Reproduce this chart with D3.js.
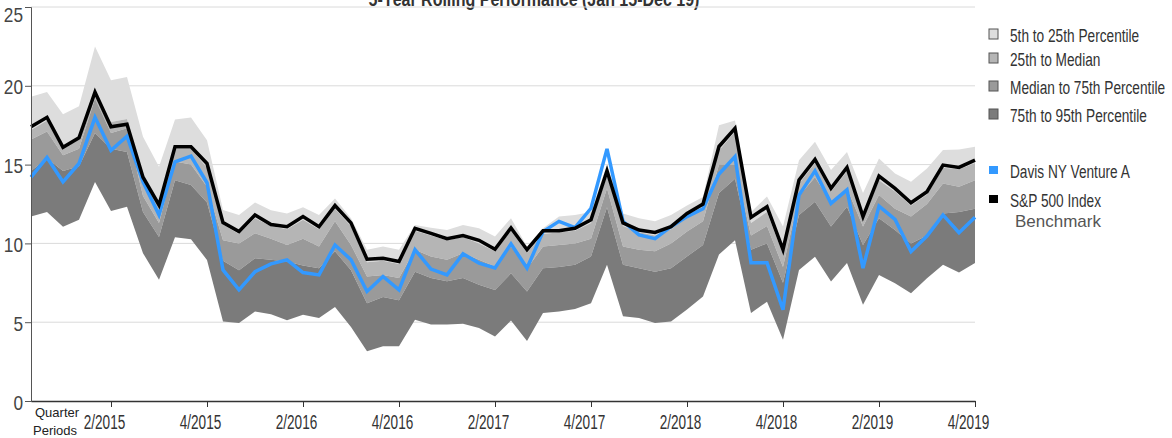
<!DOCTYPE html>
<html>
<head>
<meta charset="utf-8">
<script src="https://cdn.jsdelivr.net/npm/d3@7"></script>
<style>
  body { margin: 0; background: #fff; }
  svg text { font-family: 'Liberation Sans', Arial, sans-serif; }
</style>
</head>
<body>
<div id="chart"></div>
<script>
// monthly rolling returns, Jan 2015 .. Dec 2019 (60 points)
const p5 = [19.3,19.6,18.2,18.7,22.5,20.35,20.56,16.76,14.86,17.86,17.99,16.55,
  12.12,11.8,12.6,12.1,11.9,12.3,11.8,12.85,11.6,9.6,9.8,9.6,
  11.17,11.0,10.85,11.17,10.96,10.43,11.6,9.8,10.96,11.7,11.8,12.0,
  15.0,11.9,11.6,11.4,11.8,12.4,12.95,17.5,17.8,12.0,12.97,11.07,
  15.28,16.45,14.65,15.8,13.2,15.39,14.44,13.91,14.76,15.92,15.96,16.13];
const p25 = [17.2,17.8,16.0,16.6,19.5,17.7,17.9,14.3,12.5,16.0,16.0,14.8,
  11.2,10.6,11.6,11.1,10.9,11.5,10.9,12.2,11.1,8.8,8.9,8.7,
  10.8,10.5,10.2,10.4,10.0,9.5,10.8,9.4,10.6,10.7,10.8,11.3,
  14.3,11.1,10.7,10.5,10.9,11.7,12.3,15.9,17.1,11.3,12.0,9.3,
  13.8,15.1,13.3,14.6,11.5,14.0,13.3,12.4,13.1,14.8,14.7,15.1];
const p50 = [16.6,17.1,15.6,16.0,19.2,17.0,17.3,13.0,11.3,15.2,15.0,13.6,
  10.2,10.0,10.65,10.3,9.9,10.3,9.8,11.4,9.9,7.9,8.0,7.8,
  9.6,9.17,8.96,9.38,8.96,8.54,9.8,8.4,9.8,9.9,10.0,10.3,
  13.5,9.8,9.6,9.5,10.0,10.75,11.4,15.0,14.97,10.5,11.1,8.5,
  13.0,14.2,12.6,13.5,11.07,13.07,12.2,11.7,12.5,13.8,13.6,14.0];
const p75 = [14.6,15.4,14.6,14.9,17.0,16.0,15.8,12.0,10.4,14.0,13.7,12.6,
  8.9,8.3,9.05,8.96,8.85,8.6,8.43,9.5,8.3,6.2,6.6,6.4,
  8.2,7.8,7.6,7.8,7.38,7.05,8.1,6.95,8.43,8.5,8.64,9.17,
  12.3,8.64,8.43,8.2,8.43,9.17,9.9,13.2,14.1,9.6,10.0,7.5,
  11.8,12.65,11.07,12.33,9.9,11.6,10.85,10.0,10.5,11.9,12.0,12.2];
const p95 = [11.7,12.0,11.05,11.5,13.9,12.05,12.33,9.38,7.69,10.39,10.26,8.95,
  5.05,4.95,5.68,5.5,5.12,5.48,5.27,5.96,4.7,3.15,3.47,3.47,
  5.16,4.85,4.85,4.9,4.63,4.1,5.1,3.8,5.58,5.68,5.83,6.2,
  8.64,5.37,5.27,4.95,5.05,5.8,6.63,9.3,10.2,5.58,6.3,3.89,
  8.32,9.16,7.58,8.75,6.1,7.99,7.47,6.84,7.79,8.64,8.16,8.75];
const fund = [14.2,15.45,13.9,15.07,18.0,15.9,16.8,13.9,11.8,15.18,15.54,13.85,
  8.32,7.05,8.2,8.7,8.96,8.15,8.0,9.9,8.96,6.95,7.9,7.05,
  9.6,8.37,8.0,9.34,8.75,8.44,9.97,8.43,10.75,11.4,11.0,12.23,
  16.0,11.4,10.54,10.3,11.06,11.7,12.2,14.4,15.5,8.78,8.78,5.79,
  13.07,14.6,12.54,13.4,8.43,12.37,11.53,9.48,10.47,11.81,10.68,11.66];
const bench = [17.4,18.0,16.1,16.7,19.6,17.4,17.56,14.2,12.44,16.13,16.13,15.07,
  11.32,10.75,11.8,11.2,11.06,11.7,11.06,12.4,11.3,9.0,9.06,8.85,
  10.96,10.64,10.3,10.5,10.2,9.63,10.98,9.6,10.8,10.8,10.96,11.5,
  14.6,11.3,10.85,10.7,11.06,11.9,12.5,16.15,17.3,11.65,12.33,9.6,
  14.02,15.33,13.49,14.82,11.7,14.27,13.49,12.58,13.28,14.97,14.82,15.28];

const tickIdx = [5,11,17,23,29,35,41,47,53,59];
const tickLabels = ['2/2015','4/2015','2/2016','4/2016','2/2017','4/2017','2/2018','4/2018','2/2019','4/2019'];
const yTicks = [0,5,10,15,20,25];

const bandNames = ['5th to 25th Percentile','25th to Median','Median to 75th Percentile','75th to 95th Percentile'];
const bandColors = ['#dddddd','#b5b5b5','#9a9a9a','#7b7b7b'];
const bands = [[p5,p25],[p25,p50],[p50,p75],[p75,p95]];

const W = 1172, H = 438;
const svg = d3.select('#chart').append('svg')
    .attr('width', W)
    .attr('height', H);

const x = d3.scaleLinear().domain([0, 59]).range([31, 975]);
const y = d3.scaleLinear().domain([0, 25]).range([401, 7]);

// title, mostly above the top edge as in the original
svg.append('text')
    .attr('transform', 'translate(534,6) scale(0.8,1)')
    .attr('text-anchor', 'middle')
    .attr('font-size', 20).attr('font-weight', 'bold')
    .attr('fill', '#333')
    .text('5-Year Rolling Performance (Jan 15-Dec 19)');

// gridlines
svg.append('g')
    .selectAll('line')
    .data(yTicks.filter(d => d > 0))
    .join('line')
    .attr('x1', 31).attr('x2', 975)
    .attr('y1', d => y(d)).attr('y2', d => y(d))
    .attr('stroke', '#dadada');

// percentile bands
const idx = d3.range(60);
bands.forEach((b, k) => {
    const area = d3.area()
        .x(i => x(i))
        .y0(i => y(b[1][i]))
        .y1(i => y(b[0][i]));
    svg.append('path')
        .datum(idx)
        .attr('fill', bandColors[k])
        .attr('d', area);
});

// lines
const drawLine = (vals, color) => {
    const line = d3.line().x(i => x(i)).y(i => y(vals[i]));
    svg.append('path')
        .datum(idx)
        .attr('fill', 'none')
        .attr('stroke', color)
        .attr('stroke-width', 3.5)
        .attr('d', line);
};
drawLine(fund, '#3399ff');
drawLine(bench, '#000000');

// axes
const yAxis = d3.axisLeft(y).tickValues(yTicks).tickSize(6).tickFormat(d3.format('d'));
const yg = svg.append('g').attr('transform', 'translate(31,0)').call(yAxis);
yg.select('.domain').attr('stroke', '#555');
yg.selectAll('.tick line').attr('stroke', '#555');
yg.selectAll('.tick text')
    .attr('x', null).attr('dy', null)
    .attr('font-size', 21).attr('fill', '#444')
    .attr('transform', d => 'translate(-8,' + (d === 25 ? 14 : 8) + ') scale(0.82,1)');

const xAxis = d3.axisBottom(x).tickValues(tickIdx).tickSize(6)
    .tickFormat((d, i) => tickLabels[i]).tickSizeOuter(0);
const xg = svg.append('g').attr('transform', 'translate(0,401)').call(xAxis);
xg.select('.domain').attr('stroke', '#333').attr('stroke-width', 1.5);
xg.selectAll('.tick line').attr('stroke', '#333');
xg.selectAll('.tick text')
    .attr('y', null).attr('dy', null)
    .attr('font-size', 20).attr('fill', '#333')
    .attr('transform', 'translate(-7,28) scale(0.68,1)');

svg.append('text').attr('x', 35).attr('y', 417).attr('font-size', 13).attr('fill', '#222')
    .text('Quarter');
svg.append('text').attr('x', 33).attr('y', 435).attr('font-size', 13).attr('fill', '#222')
    .text('Periods');

// legend
const legend = svg.append('g');
const legendRows = [
    {name: bandNames[0], color: bandColors[0], y: 35},
    {name: bandNames[1], color: bandColors[1], y: 59},
    {name: bandNames[2], color: bandColors[2], y: 87},
    {name: bandNames[3], color: bandColors[3], y: 115},
    {name: 'Davis NY Venture A', color: '#3399ff', y: 171},
    {name: 'S&P 500 Index', color: '#000000', y: 200}
];
legendRows.forEach(r => {
    const isBand = r.y < 150;
    legend.append('rect')
        .attr('x', 989).attr('y', r.y - (isBand ? 6 : 5))
        .attr('width', 9).attr('height', isBand ? 10 : 8)
        .attr('fill', r.color)
        .attr('stroke', isBand ? '#555' : 'none');
    legend.append('text')
        .attr('transform', 'translate(1010,' + (r.y + 7) + ') scale(0.72,1)')
        .attr('font-size', 19).attr('fill', '#333')
        .text(r.name);
});
legend.append('text')
    .attr('x', 1015).attr('y', 227)
    .attr('font-size', 17).attr('fill', '#555')
    .text('Benchmark');
</script>
</body>
</html>
